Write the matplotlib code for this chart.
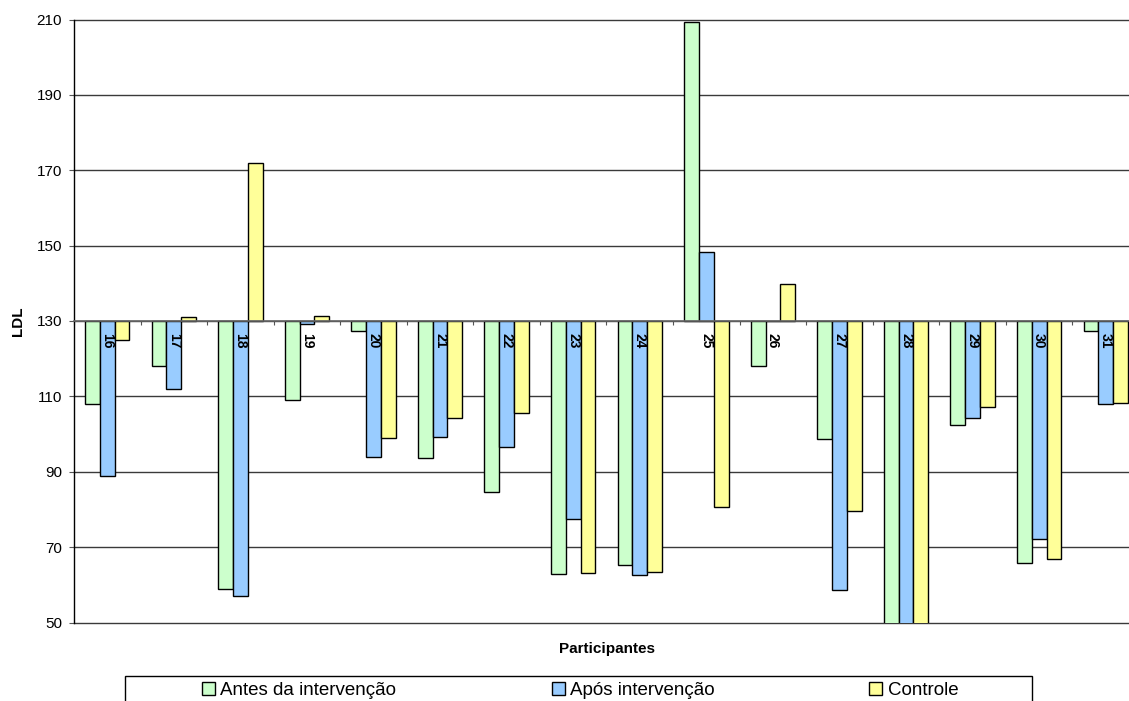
import matplotlib
matplotlib.use('Agg')
import matplotlib.pyplot as plt
import numpy as np
from matplotlib.patches import Rectangle, Patch

plt.rcParams['font.family'] = ['Liberation Sans', 'DejaVu Sans']

participantes = ['16', '17', '18', '19', '20', '21', '22', '23',
                 '24', '25', '26', '27', '28', '29', '30', '31']
antes = [108, 118, 59, 109, 127.3, 93.7, 84.5, 62.9,
         65.3, 209.4, 118.1, 98.7, 45, 102.4, 65.8, 127.3]
apos = [89, 112, 57, 129.1, 94, 99.3, 96.5, 77.5,
        62.7, 148.3, 130, 58.7, 45, 104.2, 72.2, 108]
controle = [125, 131, 172, 131.3, 99, 104.3, 105.5, 63.1,
            63.3, 80.7, 139.8, 79.5, 45, 107.3, 66.8, 108.3]

series = ['Antes da intervenção', 'Após intervenção', 'Controle']
cores = ['#CCFFCC', '#99CCFF', '#FFFF99']
base = 130
yticks = np.arange(50, 211, 20)

W, H = 1129, 701
fig = plt.figure(figsize=(W / 100, H / 100), dpi=100)
ax = fig.add_axes([74 / W, 1 - 622.5 / H, (1139 - 74) / W, (622.5 - 19.5) / H])

x = np.arange(len(participantes))
bw = 0.222
for k, (vals, cor) in enumerate(zip([antes, apos, controle], cores)):
    vals = np.array(vals, dtype=float)
    ax.bar(x + (k - 1) * bw, vals - base, bottom=base, width=bw,
           color=cor, edgecolor='black', linewidth=1.0, zorder=2)

ax.set_xlim(-0.5, len(participantes) - 0.5)
ax.set_ylim(50, 210)
ax.set_yticks(yticks)
ax.set_yticklabels([str(v) for v in yticks])
ax.yaxis.grid(True, color='#3a3a3a', linewidth=1.0)
ax.set_axisbelow(True)
for gl in ax.get_ygridlines():
    gl.set_clip_on(False)

ax.spines['top'].set_visible(False)
ax.spines['right'].set_visible(False)
ax.spines['left'].set_color('black')
ax.spines['left'].set_linewidth(1.0)
ax.spines['bottom'].set_position(('data', base))
ax.spines['bottom'].set_color('#666666')
ax.spines['bottom'].set_linewidth(1.2)
ax.spines['bottom'].set_zorder(3)

ax.set_xticks(np.arange(-0.5, len(participantes), 1))
ax.set_xticklabels([])
ax.tick_params(axis='x', direction='out', length=3, width=0.8, color='#555555')
ax.tick_params(axis='y', direction='out', length=3.6, width=0.8,
               color='#555555', pad=5, labelsize=11)

for i, p in enumerate(participantes):
    ax.annotate(p, xy=(i, base), xytext=(0, -8.5), textcoords='offset points',
                rotation=-90, ha='center', va='top', fontsize=10,
                fontweight='bold', zorder=4)

ax.set_ylabel('LDL', fontsize=11, fontweight='bold', labelpad=8)
fig.text(606.5 / W, 1 - 649 / H, 'Participantes', ha='center', va='center',
         fontsize=11, fontweight='bold')

# legend frame (cut at the bottom edge like the original)
fig.patches.append(Rectangle((125 / W, -0.05), (1032 - 125) / W,
                             (701 - 675.7) / H + 0.05, transform=fig.transFigure,
                             facecolor='white', edgecolor='black', linewidth=1.0))
pos_legenda = [201.7, 551.7, 869]
for nome, cor, px in zip(series, cores, pos_legenda):
    h = Patch(facecolor=cor, edgecolor='black', linewidth=1.0)
    fig.legend(handles=[h], labels=[nome], loc='center left',
               bbox_to_anchor=(px / W, 1 - 690.5 / H), frameon=False,
               fontsize=13.5, handlelength=0.7, handleheight=0.7,
               handletextpad=0.3, borderpad=0, borderaxespad=0)

fig.savefig('out.png', dpi=100)
